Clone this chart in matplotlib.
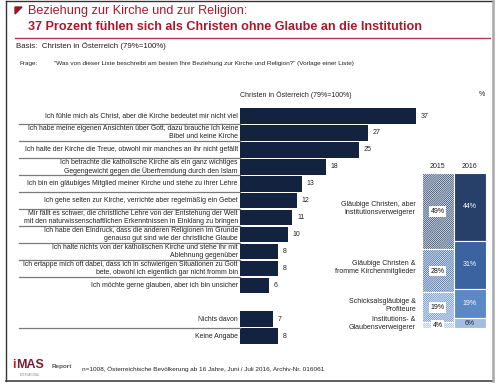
import matplotlib
matplotlib.use("Agg")
import matplotlib.pyplot as plt
import matplotlib.transforms as mtransforms
from matplotlib.patches import Polygon

plt.rcParams['font.family'] = ['Liberation Sans', 'DejaVu Sans']
plt.rcParams['hatch.linewidth'] = 0.55

# ---------------- data ----------------
statements = [
    "Ich fühle mich als Christ, aber die Kirche bedeutet mir nicht viel",
    "Ich habe meine eigenen Ansichten über Gott, dazu brauche ich keine\nBibel und keine Kirche",
    "Ich halte der Kirche die Treue, obwohl mir manches an ihr nicht gefällt",
    "Ich betrachte die katholische Kirche als ein ganz wichtiges\nGegengewicht gegen die Überfremdung durch den Islam",
    "Ich bin ein gläubiges Mitglied meiner Kirche und stehe zu ihrer Lehre",
    "Ich gehe selten zur Kirche, verrichte aber regelmäßig ein Gebet",
    "Mir fällt es schwer, die christliche Lehre von der Entstehung der Welt\nmit den naturwissenschaftlichen Erkenntnissen in Einklang zu bringen",
    "Ich habe den Eindruck, dass die anderen Religionen im Grunde\ngenauso gut sind wie der christliche Glaube",
    "Ich halte nichts von der katholischen Kirche und stehe ihr mit\nAblehnung gegenüber",
    "Ich ertappe mich oft dabei, dass ich in schwierigen Situationen zu Gott\nbete, obwohl ich eigentlich gar nicht fromm bin",
    "Ich möchte gerne glauben, aber ich bin unsicher",
    "Nichts davon",
    "Keine Angabe",
]
values = [37, 27, 25, 18, 13, 12, 11, 10, 8, 8, 6, 7, 8]

years = ["2015", "2016"]
groups = [
    "Gläubige Christen, aber\nInstitutionsverweigerer",
    "Gläubige Christen &\nfromme Kirchenmitglieder",
    "Schicksalsgläubige &\nProfiteure",
    "Institutions- &\nGlaubensverweigerer",
]
shares_2015 = [49, 28, 19, 4]
shares_2016 = [44, 31, 19, 6]

# ---------------- styles ----------------
W, H = 500, 390
RED = "#A8192E"
NAVY = "#13223F"
seg_colors = ["#26406A", "#3A63A0", "#5C88C6", "#A3BDE0"]
seg_text = ["white", "white", "white", "#1b2a44"]

fig = plt.figure(figsize=(W / 100, H / 100), dpi=100)
fig.patch.set_facecolor("white")

# overlay axes in pixel coordinates
ov = fig.add_axes([0, 0, 1, 1])
ov.set_xlim(0, W)
ov.set_ylim(H, 0)
ov.axis("off")

# frame
ov.plot([6, 6], [1, 381], color="#333333", lw=1.0)
ov.plot([6, 493], [1, 1], color="#333333", lw=1.0)
ov.plot([6, 493], [381, 381], color="#444444", lw=1.2)
ov.plot([493, 493], [1, 381], color="#A8A8A8", lw=1.8)

# title
ov.add_patch(Polygon([[15, 7], [22, 7], [15, 14]], closed=True, color="#8E1B2C"))
ov.text(28, 11, "Beziehung zur Kirche und zur Religion:", color=RED,
        fontsize=9.1, ha="left", va="center")
ov.text(28, 26.5, "37 Prozent fühlen sich als Christen ohne Glaube an die Institution",
        color=RED, fontsize=9.1, fontweight="bold", ha="left", va="center")
ov.plot([15, 490], [37.5, 37.5], color="#B0334F", lw=1.0)

ov.text(16, 46, "Basis:  Christen in Österreich (79%=100%)", fontsize=5.7,
        ha="left", va="center", color="#222222")
ov.text(20, 64, "Frage:", fontsize=4.6, ha="left", va="center", color="#222222")
ov.text(54.5, 64, "\"Was von dieser Liste beschreibt am besten Ihre Beziehung zur Kirche und Religion?\" (Vorlage einer Liste)",
        fontsize=4.6, ha="left", va="center", color="#222222")

ov.text(240, 95, "Christen in Österreich (79%=100%)", fontsize=5.0,
        ha="left", va="center", color="#222222")
ov.text(481.5, 95, "%", fontsize=5.0, ha="center", va="center", color="#222222")

# footer
ov.text(12, 365.5, "i", color="#C0182F", fontsize=9.0, fontweight="bold",
        ha="left", va="center")
ov.text(16.5, 365.5, "MAS", color="#7A2030", fontsize=9.0, fontweight="bold",
        ha="left", va="center")
ov.text(20, 375, "INTERNATIONAL", color="#888888", fontsize=1.8,
        ha="left", va="center")
ov.text(52, 366.5, "Report", color="#555555", fontsize=4.6, fontweight="bold",
        ha="left", va="center")
ov.text(82, 369, "n=1008, Österreichische Bevölkerung ab 16 Jahre, Juni / Juli 2016, Archiv-Nr. 016061",
        fontsize=4.6, ha="left", va="center", color="#222222")

# ---------------- left bar chart ----------------
slot = 16.93
top_c = 116.0
n_slots = 14
ax_top = top_c - slot / 2
ax_bot = top_c + slot * (n_slots - 1) + slot / 2
px_per_unit = 4.75
ax_w = 40 * px_per_unit
ax = fig.add_axes([240 / W, (H - ax_bot) / H, ax_w / W, (ax_bot - ax_top) / H])
ax.set_xlim(0, 40)
ax.set_ylim(n_slots - 0.5, -0.5)
ax.axis("off")

positions = list(range(11)) + [12, 13]
ax.barh(positions, values, height=0.92, color=NAVY, edgecolor="none")
for p, v, lab in zip(positions, values, statements):
    ax.text(v + 1.0, p, str(v), fontsize=5.0, ha="left", va="center", color="#222222")
    ax.text(-0.45, p, lab, fontsize=4.95, ha="right", va="center",
            multialignment="right", color="#222222")

blend = mtransforms.blended_transform_factory(ax.transAxes, ax.transData)
x0 = (19 - 240) / ax_w
sep_pairs = [(a, b) for a, b in zip(positions[:-1], positions[1:]) if b - a == 1 and a != 10]
for a, b in sep_pairs:
    yb = (a + b) / 2
    ax.plot([x0, 0], [yb, yb], color="#7A7A7A", lw=0.9, transform=blend, clip_on=False)

# ---------------- right stacked chart ----------------
st_left, st_right = 421.5, 486.0
st_top, st_bot = 172.7, 327.7
ax2 = fig.add_axes([st_left / W, (H - st_bot) / H, (st_right - st_left) / W, (st_bot - st_top) / H])
ax2.set_xlim(-0.5, 1.5)
ax2.set_ylim(100, 0)
ax2.axis("off")

bottom15 = 0
bottom16 = 0
mids15, mids16 = [], []
for i, (s15, s16) in enumerate(zip(shares_2015, shares_2016)):
    col = seg_colors[i]
    ax2.bar(0, s15, bottom=bottom15, width=0.985, color="white", edgecolor=col,
            hatch="/" * 16, linewidth=0)
    ax2.bar(0, s15, bottom=bottom15, width=0.985, color="none", edgecolor="white",
            linewidth=0.8)
    ax2.bar(1, s16, bottom=bottom16, width=0.985, color=col, edgecolor="white",
            linewidth=0.8)
    m15 = bottom15 + s15 / 2
    m16 = bottom16 + s16 / 2
    mids15.append(m15)
    mids16.append(m16)
    ax2.text(0, m15 + 0.5, f"{s15}%", fontsize=5.0, ha="center", va="center", color="#111111",
             bbox=dict(boxstyle="square,pad=0.25", fc="white", ec="none"))
    ax2.text(1, m16, f"{s16}%", fontsize=5.0, ha="center", va="center", color=seg_text[i])
    bottom15 += s15
    bottom16 += s16

for x, yr in enumerate(years):
    ax2.text(x, -3.9, yr, fontsize=5.0, ha="center", va="center", color="#222222")

for g, m15, m16 in zip(groups, mids15, mids16):
    ax2.text(-0.68, (m15 + m16) / 2, g, fontsize=5.0, ha="right", va="center",
             multialignment="right", color="#222222")

fig.savefig("out.png", dpi=100, facecolor="white")
